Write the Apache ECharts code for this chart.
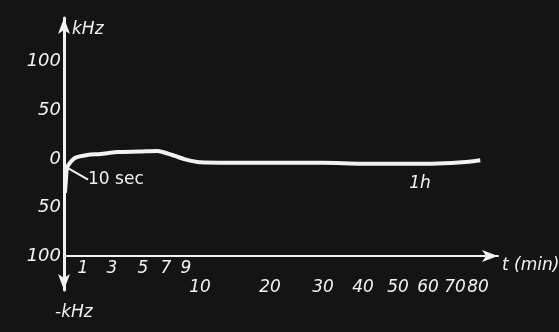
<!DOCTYPE html>
<html>
<head>
<meta charset="utf-8">
<style>
  html, body { margin: 0; padding: 0; background: #141414; }
  #chart-container { width: 559px; height: 332px; }
</style>
<script src="https://cdn.jsdelivr.net/npm/echarts@6/dist/echarts.min.js"></script>
</head>
<body>
<div id="chart-container"></div>
<script>
// time in minutes and frequency offset in kHz
const timeMin = [0.05, 0.1, 0.16, 0.32, 0.58, 1.3, 2.2, 3.3, 4.8, 6.2, 6.7, 7.9, 8.9, 10, 14, 20, 30, 40, 50, 60, 70, 76, 81];
const khz = [-35, -22, -9, -4, 1, 4, 5, 7, 7.5, 8, 7, 3, -0.5, -3.5, -4, -4, -4, -5, -5, -5, -4, -3, -1.5];

// the hand drawn time axis is not linear: minutes -> axis units
const scaleMin = [0, 1, 3, 5, 7, 9, 10, 20, 30, 40, 50, 60, 70, 80, 90];
const scaleUnit = [0, 19, 48, 79, 102, 122, 136, 206, 259, 299, 334, 364, 391, 414, 437];

const xTicks = [1, 3, 5, 7, 9, 10, 20, 30, 40, 50, 60, 70, 80];
const yTicks = [100, 50, 0, -50, -100];
const yBase = -100; // the time axis crosses the kHz axis here

const tenSecIdx = 2;
const oneHourIdx = 19;

function warp(t) {
  for (let i = 1; i < scaleMin.length; i++) {
    if (t <= scaleMin[i]) {
      const f = (t - scaleMin[i - 1]) / (scaleMin[i] - scaleMin[i - 1]);
      return scaleUnit[i - 1] + f * (scaleUnit[i] - scaleUnit[i - 1]);
    }
  }
  return scaleUnit[scaleUnit.length - 1];
}

(() => {
  var dom = document.getElementById("chart-container");
  var chart = echarts.init(dom, null, { renderer: "canvas" });
  const white = "#f2f2f2";
  const font = "DejaVu Sans";

  const points = timeMin.map((t, i) => {
    const item = { value: [warp(t), khz[i] - yBase] };
    if (i === tenSecIdx) {
      item.label = {
        show: true, formatter: "10 sec", position: "right",
        color: white, fontFamily: font, fontSize: 17,
      };
      item.labelLine = { show: true, lineStyle: { color: white, width: 2 } };
    }
    if (i === oneHourIdx) {
      item.label = {
        show: true, formatter: "1h", position: "bottom", distance: 10,
        color: white, fontFamily: font, fontStyle: "italic", fontSize: 17,
      };
    }
    return item;
  });

  const option = {
    backgroundColor: "#141414",
    animation: false,
    grid: { left: 64, right: 61, top: 18, bottom: 42, outerBoundsMode: "none" },
    xAxis: {
      type: "value",
      min: 0,
      max: 434,
      name: "t (min)",
      nameLocation: "end",
      nameGap: 4,
      nameTextStyle: {
        color: white, fontFamily: font, fontStyle: "italic", fontSize: 17,
        align: "left", verticalAlign: "top", padding: [1, 0, 0, 0],
      },
      splitLine: { show: false },
      axisTick: { show: false },
      axisLine: {
        onZero: true,
        symbol: ["none", "arrow"],
        symbolSize: [9, 16],
        lineStyle: { color: white, width: 2 },
      },
      axisLabel: {
        customValues: xTicks.map(warp),
        margin: -31,
        color: white,
        fontFamily: font,
        fontStyle: "italic",
        fontSize: 17,
        lineHeight: 19,
        formatter: (v) => {
          const t = xTicks.find((m) => Math.abs(warp(m) - v) < 0.5);
          return t >= 10 ? "\n" + t : String(t);
        },
      },
    },
    yAxis: {
      type: "value",
      min: -35,
      max: 245,
      name: "kHz",
      nameLocation: "end",
      nameGap: -12,
      nameTextStyle: {
        color: white, fontFamily: font, fontStyle: "italic", fontSize: 17,
        align: "left", verticalAlign: "middle", padding: [0, 0, 0, 8],
      },
      splitLine: { show: false },
      axisTick: { show: false },
      axisLine: {
        onZero: true,
        symbol: ["arrow", "arrow"],
        symbolSize: [9, 16],
        lineStyle: { color: white, width: 3 },
      },
      axisLabel: {
        customValues: yTicks.map((k) => k - yBase),
        margin: 3,
        color: white,
        fontFamily: font,
        fontStyle: "italic",
        fontSize: 18,
        formatter: (v) => String(Math.abs(v + yBase)),
      },
    },
    graphic: [
      {
        type: "text", left: 55, top: 304,
        style: { text: "-kHz", fill: white, font: "italic 17px 'DejaVu Sans'" },
      },
    ],
    labelLayout: (params) => {
      if (params.dataIndex === tenSecIdx) return { dx: 16, dy: 12 };
      if (params.dataIndex === oneHourIdx) return { dx: -8, dy: 1 };
      return {};
    },
    series: [
      {
        type: "line",
        data: points,
        smooth: 0.3,
        symbol: "circle",
        symbolSize: 0,
        showSymbol: true,
        showAllSymbol: true,
        itemStyle: { color: white },
        lineStyle: { color: white, width: 4 },
      },
    ],
  };
  chart.setOption(option);
  window.addEventListener("resize", chart.resize);
})();
</script>
</body>
</html>
